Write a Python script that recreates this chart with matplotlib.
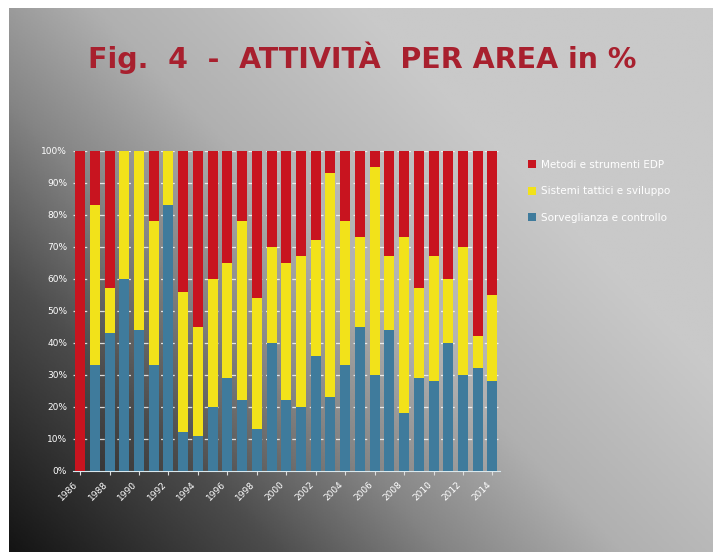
import numpy as np
import matplotlib
matplotlib.use("Agg")
import matplotlib.pyplot as plt
from matplotlib.colors import LinearSegmentedColormap

# anni 1986 - 2014
years = [str(y) for y in range(1986, 2015)]

# quote in % per area
blue = [0, 33, 43, 60, 44, 33, 83, 12, 11, 20, 29, 22, 13, 40, 22,
        20, 36, 23, 33, 45, 30, 44, 18, 29, 28, 40, 30, 32, 28]
yellow = [0, 50, 14, 40, 56, 45, 17, 44, 34, 40, 36, 56, 41, 30, 43,
          47, 36, 70, 45, 28, 65, 23, 55, 28, 39, 20, 40, 10, 27]
red = [100 - b - y for b, y in zip(blue, yellow)]

labels = ["Metodi e strumenti EDP",
          "Sistemi tattici e sviluppo",
          "Sorveglianza e controllo"]

fig = plt.figure(figsize=(7.13, 5.52), dpi=100)
fig.patch.set_facecolor("white")

# sfondo sfumato (scuro in basso a sinistra, chiaro in alto a destra)
bg = fig.add_axes([9 / 713, 0, 1 - 9 / 713, 1 - 8 / 552])
xx, yy = np.meshgrid(np.linspace(0, 1, 300), np.linspace(0, 1, 300))
t = 0.8 * xx + 0.6 * (1 - yy)
cmap = LinearSegmentedColormap.from_list(
    "bg", [(0, "#141414"), (0.3, "#4c4c4c"), (0.5, "#858585"),
           (0.7, "#b0b0b0"), (1, "#c9c9c9")])
bg.imshow(t, cmap=cmap, aspect="auto", vmin=0, vmax=1.0, origin="upper")
bg.axis("off")

fig.text(0.508, 0.895, "Fig.  4  -  ATTIVITÀ  PER AREA in %", ha="center", va="center",
         fontsize=20.5, fontweight="bold", color="#a8202e")

ax = fig.add_axes([0.102, 0.147, 0.599, 0.580])
ax.patch.set_alpha(0)

x = np.arange(len(years))
w = 0.68
bot2 = [b + y for b, y in zip(blue, yellow)]
p1 = ax.bar(x, blue, w, color="#3f7b9c", zorder=3, label=labels[2])
p2 = ax.bar(x, yellow, w, bottom=blue, color="#f2e21a", zorder=3, label=labels[1])
p3 = ax.bar(x, red, w, bottom=bot2, color="#c8141f", zorder=3, label=labels[0])

ax.set_xlim(-0.5, len(years) - 0.5)
ax.set_ylim(0, 100)
ax.set_yticks(range(0, 101, 10))
ax.set_yticklabels([f"{v}%" for v in range(0, 101, 10)], color="white", fontsize=6.5)
ax.set_xticks(x[::2])
ax.set_xticklabels(years[::2], rotation=45, ha="right", color="white", fontsize=6.5)
ax.tick_params(axis="y", length=0, pad=4)
ax.tick_params(axis="x", length=3, color="#dddddd")
for v in range(10, 101, 10):
    ax.axhline(v, color="white", lw=0.9, ls=(0, (4, 3)), alpha=0.8, zorder=1)
for s in ["top", "right", "left"]:
    ax.spines[s].set_visible(False)
ax.spines["bottom"].set_color("#d8e8ee")

fig.legend(handles=[p3, p2, p1], labels=labels, loc="upper left",
           bbox_to_anchor=(0.727, 0.728), frameon=False, fontsize=7.5,
           labelcolor="white", handlelength=0.8, handleheight=0.8,
           handletextpad=0.5, labelspacing=1.6)

plt.savefig("out.png", dpi=100)
